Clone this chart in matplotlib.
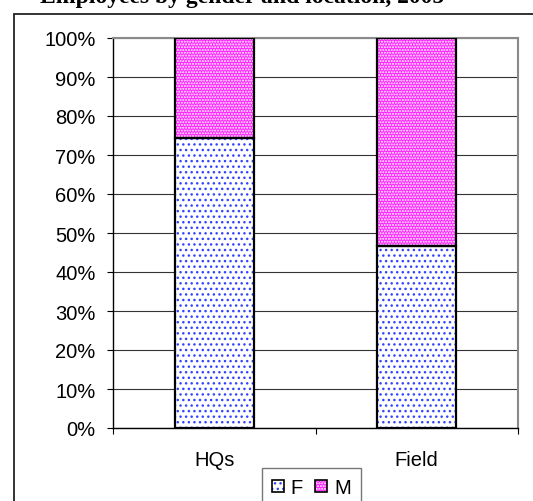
import matplotlib
matplotlib.use("Agg")
import matplotlib.pyplot as plt
from matplotlib.patches import Rectangle
from matplotlib.ticker import FixedLocator

# Share of staff by gender at each location (percent)
locations = ["HQs", "Field"]
female_pct = [74.4, 46.7]
male_pct = [25.6, 53.3]
series_names = ["F", "M"]
y_ticks = [0, 10, 20, 30, 40, 50, 60, 70, 80, 90, 100]
y_tick_labels = [f"{v}%" for v in y_ticks]

W, H = 533, 502
DPI = 100
fig = plt.figure(figsize=(W / DPI, H / DPI), dpi=DPI)
fig.patch.set_facecolor("white")

sans = ["Liberation Sans", "Arial", "DejaVu Sans"]
serif = ["Liberation Serif", "Times New Roman", "DejaVu Serif"]
FS = 14.5
F_FACE, F_DOTS = "white", "#3344ff"
M_FACE, M_DOTS = "#ff22ff", "white"

# Outer chart frame (runs past the bottom and right edges)
fig.add_artist(Rectangle((13.5 / W, -0.1), 1.2, 1.1 - 15 / H,
                         transform=fig.transFigure, fill=False,
                         edgecolor="#222222", linewidth=1.3, zorder=0))

# Title, mostly cut off by the top edge
fig.text(0.454, 1 - 3.0 / H, "Employees by gender and location, 2005",
         ha="center", va="baseline", fontsize=17, fontweight="bold",
         family=serif, color="black")

ax = fig.add_axes([113 / W, 1 - 429 / H, (518 - 113) / W, (429 - 39) / H])
ax.set_facecolor("white")

x = list(range(len(locations)))
width = 0.39

# Female segments: white with blue dotted texture
ax.bar(x, female_pct, width, color=F_FACE, edgecolor=F_DOTS,
       hatch="...", linewidth=0, zorder=2)
# Male segments: magenta with fine white dotted texture
ax.bar(x, male_pct, width, bottom=female_pct, color=M_FACE,
       edgecolor=M_DOTS, hatch="......", linewidth=0, zorder=2)
# Black outlines for each segment
ax.bar(x, female_pct, width, fill=False, edgecolor="black",
       linewidth=1.6, zorder=3)
ax.bar(x, male_pct, width, bottom=female_pct, fill=False,
       edgecolor="black", linewidth=1.6, zorder=3)

ax.set_xlim(-0.5, len(locations) - 0.5)
ax.set_ylim(0, 100)

ax.set_yticks(y_ticks)
ax.set_yticklabels(y_tick_labels, family=sans, fontsize=FS)
ax.yaxis.grid(True, color="#333333", linewidth=0.8, zorder=1)
ax.set_axisbelow(True)

ax.set_xticks(x)
ax.set_xticklabels(locations, family=sans, fontsize=FS)
ax.xaxis.set_minor_locator(FixedLocator([-0.5, 0.5, 1.5]))
ax.tick_params(axis="x", which="major", length=0, pad=16)
ax.tick_params(axis="x", which="minor", length=4.5, width=0.8,
               direction="out", color="black")
ax.tick_params(axis="y", length=4.5, width=0.8, direction="out",
               pad=8, color="black")

for side in ("left", "bottom"):
    ax.spines[side].set_color("black")
    ax.spines[side].set_linewidth(1.0)
for side in ("top", "right"):
    ax.spines[side].set_color("#8a8a8a")
    ax.spines[side].set_linewidth(1.5)

# Legend below the plot, partly cut by the bottom edge
def legend_key(face, dots, hatch):
    fill = Rectangle((0, 0), 1, 1, facecolor=face, edgecolor=dots,
                     hatch=hatch, linewidth=0)
    outline = Rectangle((0, 0), 1, 1, fill=False, edgecolor="black",
                        linewidth=1.2)
    return (fill, outline)

handles = [legend_key(F_FACE, F_DOTS, "..."),
           legend_key(M_FACE, M_DOTS, "......")]
leg = fig.legend(handles, series_names, loc="upper left",
                 bbox_to_anchor=(261.5 / W, 1 - 469 / H),
                 ncol=2, frameon=True, fancybox=False, shadow=False,
                 prop={"family": sans, "size": FS},
                 handlelength=0.6, handleheight=0.6, handletextpad=0.35,
                 columnspacing=0.6, borderpad=0.5, borderaxespad=0)
leg.get_frame().set_edgecolor("#555555")
leg.get_frame().set_linewidth(1.0)

fig.savefig("out.png", dpi=DPI, facecolor="white")
